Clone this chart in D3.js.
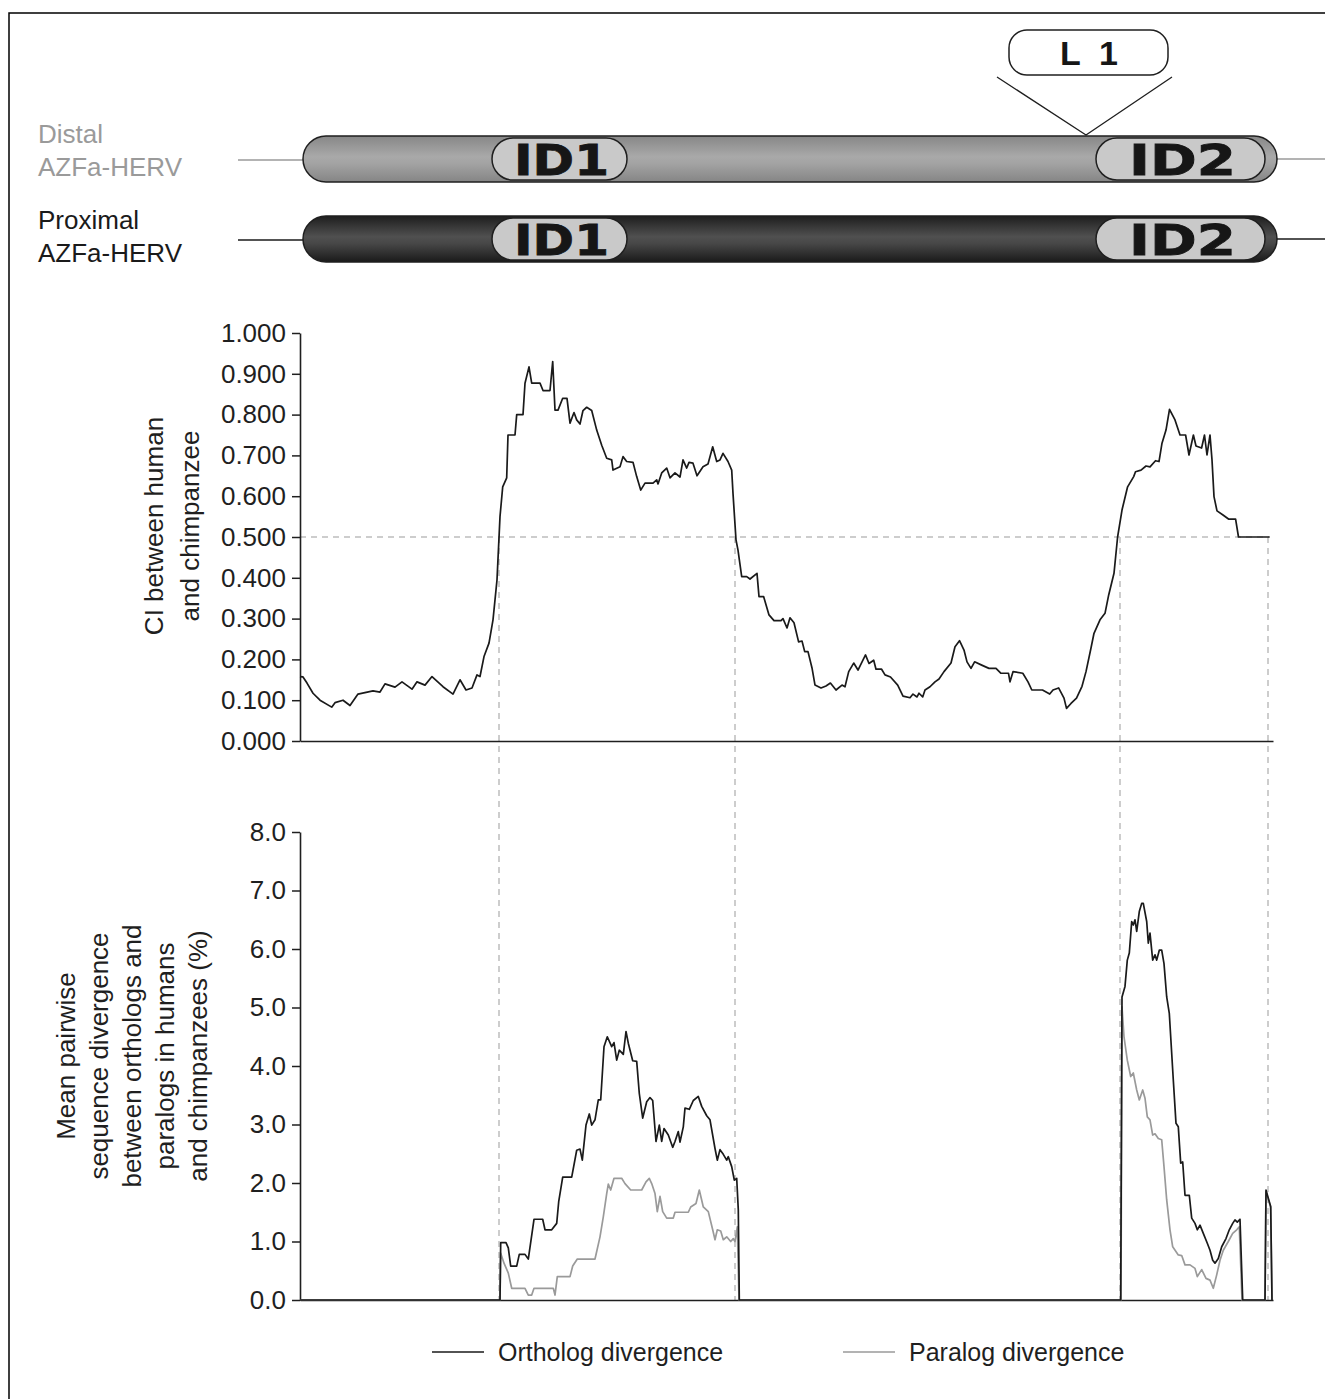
<!DOCTYPE html>
<html>
<head>
<meta charset="utf-8">
<script src="https://cdn.jsdelivr.net/npm/d3@7"></script>
<style>
  body { margin: 0; background: #fff; }
  svg { display: block; font-family: "Liberation Sans", Arial, sans-serif; }
</style>
</head>
<body>
<div id="chart"></div>
<script>
// positions are in bp along the AZFa-HERV
const hervLabels = [["Distal", "AZFa-HERV"], ["Proximal", "AZFa-HERV"]];
const hervSpan = [30, 9770];
const idBlocks = [
    { label: "ID1", start: 1920, end: 3270 },
    { label: "ID2", start: 7960, end: 9650 }
];
const l1Insert = 7860;
const l1Label = "L1";

const ciTicks = [0, 0.1, 0.2, 0.3, 0.4, 0.5, 0.6, 0.7, 0.8, 0.9, 1.0];
const divTicks = [0, 1, 2, 3, 4, 5, 6, 7, 8];
const ciThreshold = 0.5;
const boundaries = [1990, 4350, 8200, 9680];

const ciData = [
    [0,0.158],[30,0.157],[70,0.142],[130,0.117],[200,0.100],[317,0.083],[350,0.094],[430,0.100],[500,0.087],
    [580,0.115],[730,0.123],[800,0.120],[850,0.140],[950,0.132],[1020,0.145],[1120,0.127],[1170,0.145],
    [1250,0.137],[1320,0.158],[1430,0.133],[1530,0.115],[1600,0.150],[1660,0.125],[1720,0.130],[1770,0.162],
    [1800,0.158],[1840,0.207],[1890,0.240],[1930,0.297],[1970,0.395],[2000,0.550],[2027,0.623],[2067,0.645],
    [2080,0.750],[2150,0.750],[2167,0.800],[2230,0.800],[2250,0.877],[2290,0.917],[2317,0.877],[2400,0.877],
    [2430,0.859],[2500,0.859],[2527,0.930],[2550,0.811],[2580,0.811],[2627,0.840],[2670,0.840],[2700,0.779],
    [2740,0.805],[2767,0.787],[2800,0.777],[2830,0.810],[2867,0.818],[2917,0.810],[2967,0.762],[3017,0.725],
    [3067,0.693],[3117,0.689],[3130,0.664],[3200,0.672],[3230,0.697],[3267,0.685],[3330,0.683],[3367,0.648],
    [3407,0.615],[3450,0.632],[3530,0.632],[3567,0.640],[3580,0.630],[3617,0.657],[3667,0.669],[3700,0.645],
    [3750,0.657],[3800,0.647],[3830,0.689],[3867,0.669],[3890,0.683],[3930,0.681],[3970,0.650],[4030,0.672],
    [4080,0.679],[4127,0.721],[4167,0.685],[4200,0.689],[4230,0.705],[4280,0.685],[4317,0.664],[4330,0.607],
    [4360,0.493],[4380,0.468],[4417,0.403],[4467,0.403],[4500,0.397],[4570,0.411],[4590,0.354],[4636,0.354],
    [4690,0.309],[4740,0.295],[4810,0.295],[4830,0.300],[4870,0.277],[4900,0.302],[4940,0.290],[4986,0.243],
    [5020,0.245],[5047,0.219],[5080,0.219],[5120,0.179],[5150,0.137],[5210,0.130],[5260,0.135],[5304,0.142],
    [5360,0.125],[5420,0.137],[5450,0.133],[5487,0.170],[5537,0.191],[5580,0.174],[5655,0.211],[5690,0.190],
    [5737,0.198],[5760,0.176],[5816,0.176],[5850,0.162],[5905,0.157],[5977,0.137],[6030,0.110],[6100,0.106],
    [6130,0.115],[6170,0.108],[6190,0.117],[6227,0.108],[6250,0.125],[6300,0.133],[6350,0.145],[6390,0.152],
    [6440,0.170],[6510,0.191],[6550,0.231],[6595,0.246],[6640,0.223],[6670,0.194],[6710,0.178],[6746,0.194],
    [6817,0.186],[6890,0.178],[6960,0.178],[7010,0.166],[7085,0.166],[7100,0.145],[7130,0.170],[7228,0.166],
    [7280,0.145],[7318,0.125],[7425,0.125],[7497,0.115],[7530,0.125],[7586,0.130],[7640,0.105],[7665,0.080],
    [7710,0.092],[7765,0.105],[7820,0.134],[7860,0.170],[7910,0.228],[7940,0.264],[8000,0.297],[8050,0.313],
    [8087,0.358],[8140,0.411],[8176,0.500],[8220,0.566],[8276,0.623],[8337,0.648],[8355,0.660],[8410,0.664],
    [8460,0.674],[8500,0.672],[8555,0.687],[8590,0.685],[8620,0.730],[8660,0.762],[8695,0.813],[8750,0.787],
    [8800,0.750],[8856,0.750],[8890,0.701],[8934,0.750],[8960,0.723],[9016,0.718],[9045,0.750],[9070,0.701],
    [9100,0.750],[9120,0.689],[9140,0.599],[9170,0.564],[9230,0.554],[9285,0.544],[9356,0.544],[9385,0.500],
    [9696,0.500]
];

const orthologData = [
    [0,0],[2000,0],[2007,0.98],[2060,0.98],[2083,0.89],[2107,0.58],[2167,0.58],[2193,0.78],[2250,0.78],
    [2283,0.70],[2340,1.38],[2427,1.38],[2450,1.20],[2517,1.20],[2567,1.31],[2587,1.68],[2627,2.10],[2717,2.10],
    [2767,2.56],[2800,2.58],[2823,2.39],[2860,2.99],[2893,3.18],[2917,2.99],[2950,3.08],[2983,3.42],[3007,3.42],
    [3040,4.33],[3073,4.50],[3117,4.33],[3140,4.40],[3167,4.10],[3193,4.27],[3233,4.20],[3260,4.59],[3283,4.39],
    [3327,4.09],[3367,4.08],[3393,3.53],[3427,3.11],[3467,3.39],[3500,3.46],[3527,3.41],[3560,2.71],[3593,2.99],
    [3617,2.71],[3640,2.93],[3683,2.82],[3727,2.61],[3750,2.71],[3783,2.88],[3800,2.70],[3833,2.96],[3850,3.28],
    [3893,3.26],[3933,3.41],[3983,3.48],[4017,3.31],[4067,3.15],[4100,3.08],[4150,2.59],[4173,2.39],[4200,2.57],
    [4233,2.49],[4267,2.39],[4283,2.45],[4317,2.28],[4343,2.05],[4367,2.08],[4383,1.54],[4393,0],
    [8207,0],[8220,5.18],[8250,5.36],[8273,5.81],[8293,5.93],[8317,6.47],[8333,6.41],[8350,6.50],[8367,6.30],
    [8393,6.64],[8417,6.78],[8433,6.78],[8467,6.47],[8483,6.10],[8500,6.27],[8527,5.81],[8550,5.90],[8567,5.81],
    [8593,5.98],[8617,5.98],[8640,5.75],[8667,5.18],[8693,4.90],[8733,3.76],[8760,3.02],[8783,2.96],[8807,2.34],
    [8827,2.36],[8850,1.79],[8893,1.79],[8917,1.40],[8950,1.31],[8973,1.20],[9000,1.28],[9033,1.14],[9073,0.97],
    [9100,0.85],[9127,0.68],[9150,0.63],[9183,0.71],[9217,0.91],[9260,1.05],[9293,1.20],[9327,1.31],[9350,1.37],
    [9373,1.33],[9400,1.38],[9427,0],[9650,0],[9660,1.88],[9683,1.74],[9707,1.60],[9720,0]
];

const paralogData = [
    [0,0],[2000,0],[2007,0.80],[2040,0.63],[2083,0.46],[2117,0.20],[2250,0.20],[2283,0.085],[2317,0.085],
    [2340,0.20],[2533,0.20],[2550,0.085],[2573,0.40],[2700,0.40],[2727,0.58],[2773,0.70],[2950,0.70],[3000,1.08],
    [3033,1.42],[3067,1.82],[3083,1.98],[3107,1.88],[3140,2.08],[3217,2.08],[3250,1.99],[3307,1.88],[3417,1.88],
    [3460,2.02],[3493,2.08],[3517,1.99],[3550,1.82],[3573,1.51],[3600,1.77],[3627,1.51],[3667,1.40],[3733,1.40],
    [3750,1.50],[3883,1.50],[3907,1.59],[3960,1.65],[3993,1.88],[4033,1.59],[4083,1.51],[4127,1.20],[4150,1.03],
    [4173,1.20],[4207,1.18],[4233,1.03],[4267,1.08],[4307,1.00],[4333,1.05],[4350,1.00],[4373,1.25],[4390,0],
    [8210,0],[8220,5.01],[8240,4.50],[8273,4.10],[8307,3.82],[8333,3.88],[8367,3.59],[8393,3.42],[8427,3.59],
    [8450,3.45],[8473,3.13],[8500,3.08],[8527,2.82],[8550,2.84],[8583,2.76],[8617,2.74],[8640,2.28],[8667,1.71],
    [8700,1.20],[8727,0.91],[8783,0.77],[8817,0.76],[8850,0.60],[8900,0.60],[8950,0.54],[8973,0.40],[9017,0.52],
    [9060,0.37],[9100,0.34],[9133,0.20],[9167,0.43],[9200,0.68],[9233,0.85],[9283,1.00],[9327,1.14],[9367,1.20],
    [9393,1.25],[9420,0],[9650,0],[9660,1.85],[9683,1.72],[9707,1.58],[9720,0]
];

const legendItems = [
    { label: "Ortholog divergence", colour: "#1a1a1a" },
    { label: "Paralog divergence", colour: "#9a9a9a" }
];

const W = 1325, H = 1399;
const ink = "#1f1f1f";

const svg = d3.select("#chart")
    .append("svg")
        .attr("width", W)
        .attr("height", H);

// frame
svg.append("path")
    .attr("d", `M9,${H}V13H${W}`)
    .attr("fill", "none")
    .attr("stroke", "#000")
    .attr("stroke-width", 1.5);

const x = d3.scaleLinear()
    .domain([0, 9730])
    .range([300, 1273]);

const yCI = d3.scaleLinear()
    .domain([0, 1])
    .range([741, 333]);

const yDiv = d3.scaleLinear()
    .domain([0, 8])
    .range([1300, 832]);

// ---------- HERV structure diagram ----------
const defs = svg.append("defs");
const gradStops = [
    { id: "distalGrad", stops: ["#878787", "#a9a9a9", "#a3a3a3", "#858585"] },
    { id: "proxGrad", stops: ["#1e1e1e", "#505050", "#474747", "#1a1a1a"] }
];
gradStops.forEach(g => {
    const lg = defs.append("linearGradient")
        .attr("id", g.id)
        .attr("x1", 0).attr("y1", 0).attr("x2", 0).attr("y2", 1);
    [0, 0.45, 0.6, 1].forEach((o, i) => {
        lg.append("stop").attr("offset", o).attr("stop-color", g.stops[i]);
    });
});

const barH = 46;
const barTops = [136, 216];
const flankColours = ["#9a9a9a", "#1a1a1a"];
const labelColours = ["#9a9a9a", "#1a1a1a"];

hervLabels.forEach((lines, i) => {
    const top = barTops[i];
    const mid = top + barH / 2;

    svg.append("line")
        .attr("x1", 238).attr("x2", x(hervSpan[0]))
        .attr("y1", mid + 1).attr("y2", mid + 1)
        .attr("stroke", flankColours[i])
        .attr("stroke-width", 1.5);
    svg.append("line")
        .attr("x1", x(hervSpan[1])).attr("x2", W)
        .attr("y1", mid).attr("y2", mid)
        .attr("stroke", flankColours[i])
        .attr("stroke-width", 1.5);

    svg.append("rect")
        .attr("x", x(hervSpan[0]))
        .attr("y", top)
        .attr("width", x(hervSpan[1]) - x(hervSpan[0]))
        .attr("height", barH)
        .attr("rx", barH / 2)
        .attr("fill", `url(#${gradStops[i].id})`)
        .attr("stroke", ink)
        .attr("stroke-width", 1.5);

    idBlocks.forEach(b => {
        const ovalH = barH - 4;
        svg.append("rect")
            .attr("x", x(b.start))
            .attr("y", top + 2)
            .attr("width", x(b.end) - x(b.start))
            .attr("height", ovalH)
            .attr("rx", ovalH / 2)
            .attr("fill", "#c9c9c9")
            .attr("stroke", ink)
            .attr("stroke-width", 1.5);
        svg.append("text")
            .attr("x", (x(b.start) + x(b.end)) / 2 + 2)
            .attr("y", mid + 16)
            .attr("text-anchor", "middle")
            .attr("font-family", "'DejaVu Sans', sans-serif")
            .attr("font-weight", "bold")
            .attr("font-size", 42)
            .attr("textLength", b.label === "ID1" ? 95 : 107)
            .attr("lengthAdjust", "spacingAndGlyphs")
            .attr("fill", "#161616")
            .attr("stroke", "#161616")
            .attr("stroke-width", 0.8)
            .text(b.label);
    });

    lines.forEach((t, j) => {
        svg.append("text")
            .attr("x", 38)
            .attr("y", [143, 229][i] + j * 33)
            .attr("font-size", 26)
            .attr("fill", labelColours[i])
            .text(t);
    });
});

// L1 insertion
const l1x = x(l1Insert);
svg.append("path")
    .attr("d", `M${l1x - 89},77L${l1x},135L${l1x + 86},77`)
    .attr("fill", "none")
    .attr("stroke", ink)
    .attr("stroke-width", 1.3);
svg.append("rect")
    .attr("x", l1x - 77)
    .attr("y", 30)
    .attr("width", 159)
    .attr("height", 45)
    .attr("rx", 18)
    .attr("fill", "#fff")
    .attr("stroke", ink)
    .attr("stroke-width", 1.5);
svg.append("text")
    .attr("x", l1x + 3)
    .attr("y", 65)
    .attr("text-anchor", "middle")
    .attr("font-weight", "bold")
    .attr("font-size", 34)
    .attr("textLength", 58)
    .attr("lengthAdjust", "spacing")
    .attr("fill", "#161616")
    .text(l1Label);

// ---------- guide lines ----------
const guides = svg.append("g")
    .attr("stroke", "#bdbdbd")
    .attr("stroke-width", 1.5)
    .attr("stroke-dasharray", "6,5");

guides.append("line")
    .attr("x1", x(0)).attr("x2", x(ciData[ciData.length - 1][0]))
    .attr("y1", yCI(ciThreshold)).attr("y2", yCI(ciThreshold));

guides.selectAll(".vguide")
    .data(boundaries)
    .join("line")
        .attr("x1", d => x(d)).attr("x2", d => x(d))
        .attr("y1", yCI(ciThreshold))
        .attr("y2", yDiv(0));

// ---------- axes ----------
const styleAxis = g => {
    g.attr("font-size", 26).attr("font-family", "'Liberation Sans', Arial, sans-serif");
    g.selectAll("line").style("stroke", ink).style("stroke-width", 1.5);
    g.selectAll("path").style("stroke", ink).style("stroke-width", 1.6);
    g.selectAll("text").style("fill", ink);
};

svg.append("g")
    .attr("transform", `translate(0,${yCI(0)})`)
    .call(d3.axisBottom(x).tickValues([]).tickSizeOuter(0))
    .call(styleAxis);

svg.append("g")
    .attr("transform", `translate(${x(0)},0)`)
    .call(d3.axisLeft(yCI).tickValues(ciTicks).tickFormat(d3.format(".3f"))
        .tickSize(8).tickSizeOuter(0).tickPadding(6))
    .call(styleAxis);

svg.append("g")
    .attr("transform", `translate(0,${yDiv(0)})`)
    .call(d3.axisBottom(x).tickValues([]).tickSizeOuter(0))
    .call(styleAxis);

svg.append("g")
    .attr("transform", `translate(${x(0)},0)`)
    .call(d3.axisLeft(yDiv).tickValues(divTicks).tickFormat(d3.format(".1f"))
        .tickSize(8).tickSizeOuter(0).tickPadding(6))
    .call(styleAxis);

// axis titles
const ciTitle = svg.append("text")
    .attr("transform", "translate(163,526) rotate(-90)")
    .attr("text-anchor", "middle")
    .attr("font-size", 26)
    .attr("fill", ink);
["CI between human", "and chimpanzee"].forEach((t, i) => {
    ciTitle.append("tspan").attr("x", 0).attr("y", i * 36).text(t);
});

const divTitle = svg.append("text")
    .attr("transform", "translate(75,1056) rotate(-90)")
    .attr("text-anchor", "middle")
    .attr("font-size", 26)
    .attr("fill", ink);
["Mean pairwise", "sequence divergence", "between orthologs and", "paralogs in humans", "and chimpanzees (%)"]
    .forEach((t, i) => {
        divTitle.append("tspan").attr("x", 0).attr("y", i * 33).text(t);
    });

// ---------- series ----------
const ciLine = d3.line()
    .x(d => x(d[0]))
    .y(d => yCI(d[1]));

const divLine = d3.line()
    .x(d => x(d[0]))
    .y(d => yDiv(d[1]));

svg.append("path")
    .datum(ciData)
    .attr("fill", "none")
    .attr("stroke", "#1a1a1a")
    .attr("stroke-width", 1.7)
    .attr("stroke-linejoin", "round")
    .attr("d", ciLine);

svg.append("path")
    .datum(paralogData)
    .attr("fill", "none")
    .attr("stroke", legendItems[1].colour)
    .attr("stroke-width", 1.7)
    .attr("stroke-linejoin", "round")
    .attr("d", divLine);

svg.append("path")
    .datum(orthologData)
    .attr("fill", "none")
    .attr("stroke", legendItems[0].colour)
    .attr("stroke-width", 1.7)
    .attr("stroke-linejoin", "round")
    .attr("d", divLine);

// ---------- legend ----------
const legend = svg.selectAll(".legend")
    .data(legendItems)
    .join("g")
        .attr("transform", (d, i) => `translate(${432 + i * 411},1352)`);

legend.append("line")
    .attr("x1", 0).attr("x2", 52)
    .attr("stroke", d => d.colour)
    .attr("stroke-width", 1.7);

legend.append("text")
    .attr("x", 66)
    .attr("y", 9)
    .attr("font-size", 25)
    .attr("fill", ink)
    .text(d => d.label);
</script>
</body>
</html>
